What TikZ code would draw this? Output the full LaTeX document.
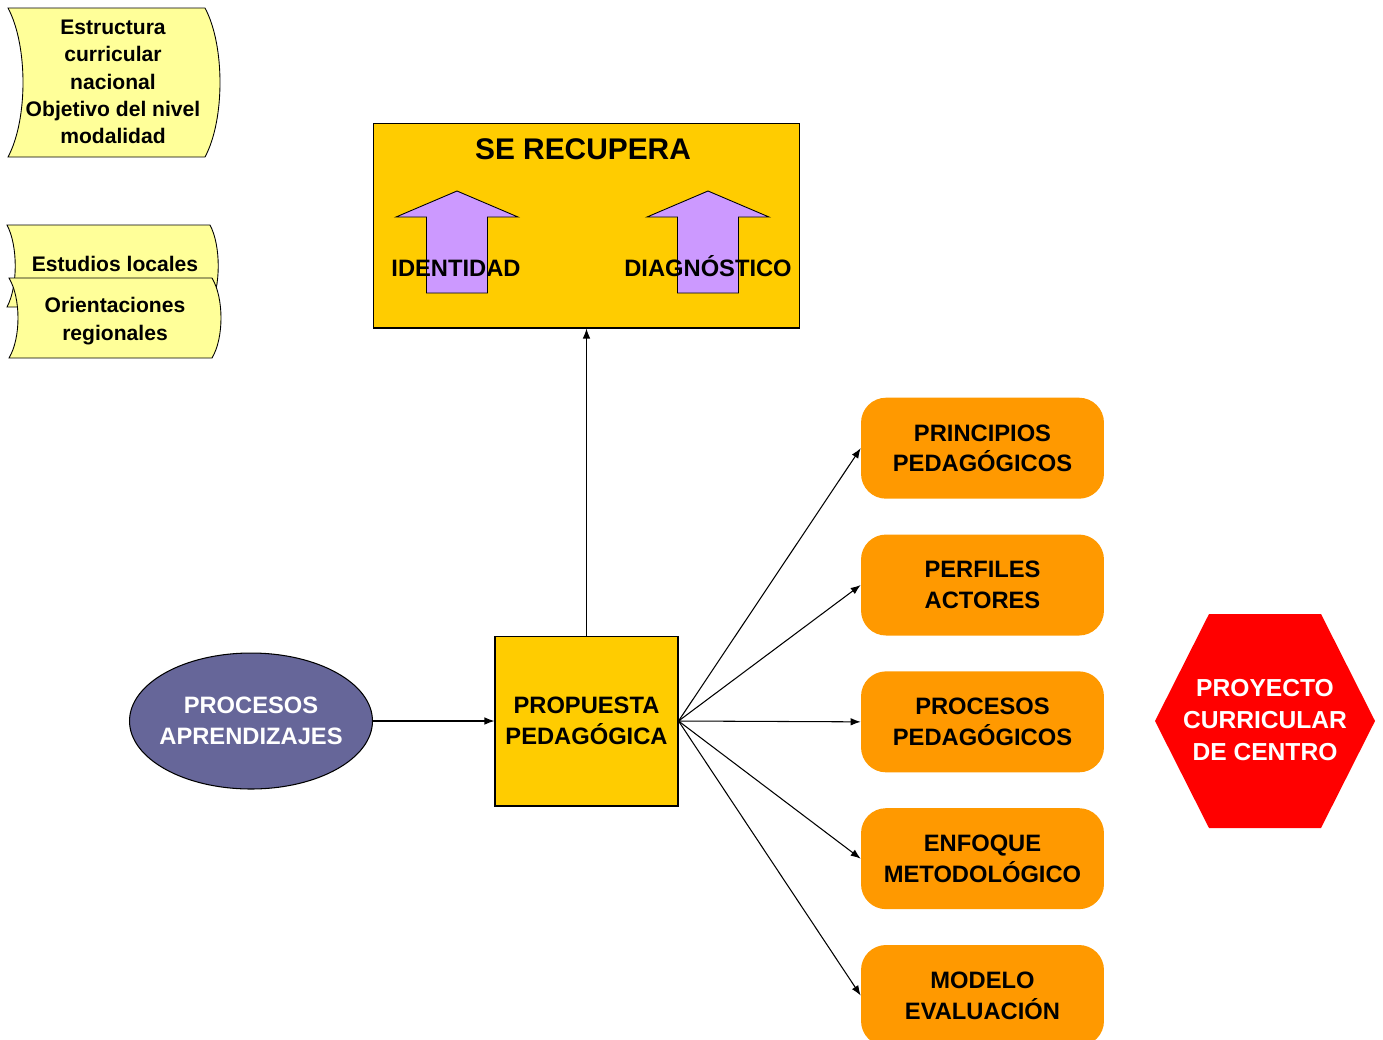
\documentclass[tikz,border=0pt]{standalone}
\usepackage{fontspec}
\setmainfont{Liberation Sans}
\usetikzlibrary{shapes.geometric,arrows.meta}
\definecolor{noteyellow}{HTML}{FFFF99}
\definecolor{boxyellow}{HTML}{FFCC00}
\definecolor{lilac}{HTML}{CC99FF}
\definecolor{slate}{HTML}{666699}
\definecolor{pumpkin}{HTML}{FF9900}
% scroll shaped note: #1,#2 top left corner, #3 right end, #4 bottom, #5 bow
\newcommand{\scrollnote}[5]{\draw[note] (#1,#2) -- (#3,#2)
  .. controls ({#3+#5},{#2+(#4-#2)/4}) and ({#3+#5},{#4-(#4-#2)/4}) .. (#3,#4)
  -- (#1,#4)
  .. controls ({#1+#5},{#4-(#4-#2)/4}) and ({#1+#5},{#2+(#4-#2)/4}) .. (#1,#2) -- cycle}
% fat up arrow centred at x = #1
\newcommand{\uparrowat}[1]{\draw[blockarrow] (#1,191) -- ({#1+61},217) -- ({#1+30.5},217)
  -- ({#1+30.5},293) -- ({#1-30.5},293) -- ({#1-30.5},217) -- ({#1-61},217) -- cycle}
\newcommand{\actnode}[2]{\node(#1)[act]{#2}}

\begin{document}
\begin{tikzpicture}[
        x=0.02cm, y=-0.02cm,
        note/.style={draw=black, fill=noteyellow, line width=0.5pt},
        notetext/.style={align=center, font=\bfseries\fontsize{12}{15.5}\selectfont},
        blockarrow/.style={draw=black, fill=lilac, line width=0.5pt},
        yellowbox/.style={rectangle, draw=black, fill=boxyellow, line width=0.6pt},
        act/.style={rectangle, rounded corners=0.5cm, fill=pumpkin,
                    minimum width=4.86cm, minimum height=2.02cm, align=center,
                    font=\bfseries\fontsize{13.5}{17.5}\selectfont},
        big/.style={align=center, font=\bfseries\fontsize{13.5}{17.5}\selectfont},
        inbox/.style={anchor=base, font=\bfseries\fontsize{13.5}{16}\selectfont},
        conn/.style={-{Latex[length=2mm,width=1.5mm]}, line width=0.6pt}
      ]
      \useasboundingbox (0,0) rectangle (1383,1039);

      % Notes on the left, the last one lies over the middle one
      \scrollnote{8}{8}{205}{157}{20};
      \node (ecn) [notetext] at (113,82) {Estructura\\curricular\\nacional\\Objetivo del nivel\\modalidad};
      \scrollnote{7}{225}{210}{307}{11};
      \node (el) [notetext] at (115,264) {Estudios locales};
      \scrollnote{9}{278}{212}{358}{12};
      \node (or) [notetext] at (115,321) {Orientaciones\\regionales};

      % What is recovered
      \node (sr) [yellowbox, minimum width=8.54cm, minimum height=4.1cm] at (586.5,225.5) {};
      \node (srt) [font=\bfseries\fontsize{17}{20}\selectfont] at (583,149) {SE RECUPERA};
      \uparrowat{457};
      \uparrowat{708};
      \node (id) [inbox] at (456,276) {IDENTIDAD};
      \node (dg) [inbox] at (708,276) {DIAGNÓSTICO};

      % Centre of the diagram
      \node (pp) [yellowbox, big, minimum width=3.66cm, minimum height=3.4cm] at (586.5,721) {PROPUESTA\\PEDAGÓGICA};
      \node (pa) [ellipse, draw=black, fill=slate, line width=0.6pt, inner sep=0pt,
                  minimum width=4.86cm, minimum height=2.72cm] at (251,721) {};
      \node (pat) [big, text=white] at (pa.center) {PROCESOS\\APRENDIZAJES};

      % Orange column, one box per row
      \matrix[row sep=0.71cm, inner sep=0pt, anchor=north] at (982.5,397) {
        \actnode{prin}{PRINCIPIOS\\PEDAGÓGICOS}; \\
        \actnode{perf}{PERFILES\\ACTORES}; \\
        \actnode{proc}{PROCESOS\\PEDAGÓGICOS}; \\
        \actnode{enf}{ENFOQUE\\METODOLÓGICO}; \\
        \actnode{mod}{MODELO\\EVALUACIÓN}; \\
      };

      % The red hexagon
      \fill[red] (1209,614) -- (1321,614) -- (1375,721) -- (1321,828) -- (1209,828) -- (1155,721) -- cycle;
      \node (pcc) [big, text=white, font=\bfseries\fontsize{14}{18}\selectfont] at (1265,720) {PROYECTO\\CURRICULAR\\DE CENTRO};

      % Connectors
      \draw[conn] (pp.north) -- (sr.south);
      \draw[conn] (pa.east) -- (pp.west);
      \foreach \a in {prin,perf,proc,enf,mod}
        \draw[conn] (pp.east) -- (\a.west);
    \end{tikzpicture}
\end{document}
